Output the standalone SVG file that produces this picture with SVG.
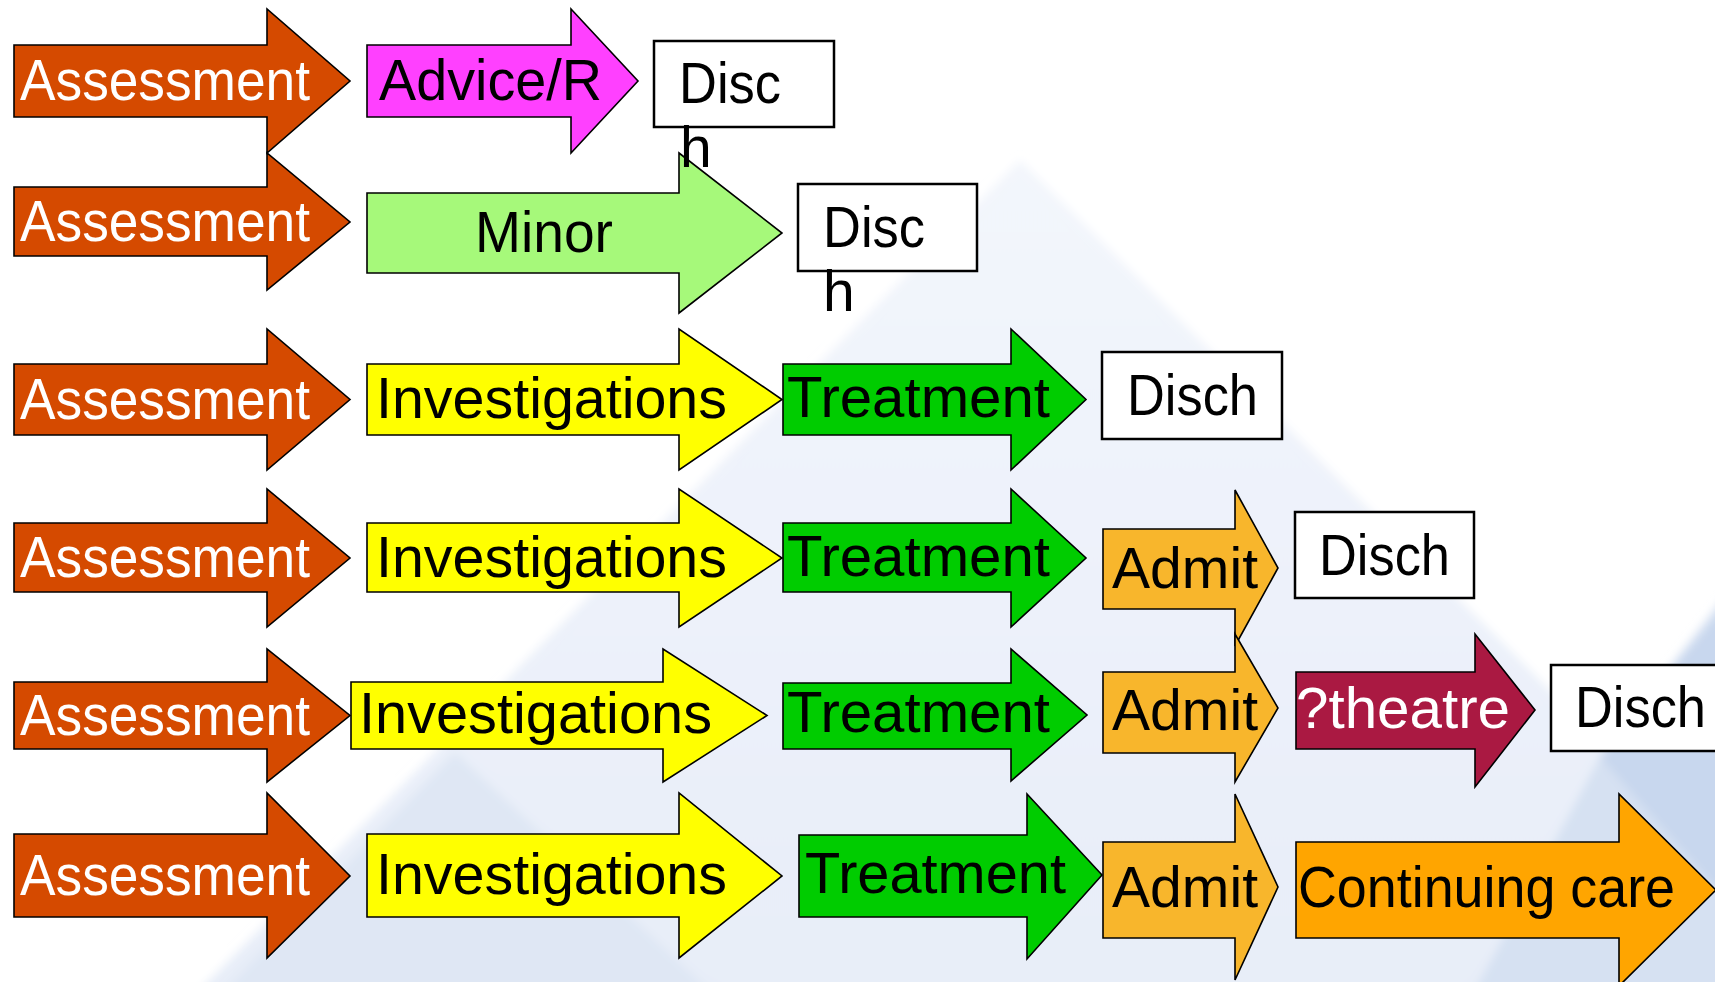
<svg xmlns="http://www.w3.org/2000/svg" width="1715" height="982" viewBox="0 0 1715 982">
<defs>
<linearGradient id="bgGrad" x1="0" y1="0" x2="0" y2="1">
<stop offset="0" stop-color="#F3F6FC"/>
<stop offset="1" stop-color="#E7EDF8"/>
</linearGradient>
<filter id="soft" x="-5%" y="-5%" width="110%" height="110%">
<feGaussianBlur stdDeviation="5"/>
</filter>
</defs>
<style>
.arr{stroke:#000;stroke-width:1.6;stroke-linejoin:miter}
.box{fill:#fff;stroke:#000;stroke-width:2.5}
.t{font-family:"Liberation Sans","Open Sans",sans-serif;font-size:57px;fill:#000}
.w{fill:#fff}
.assess{fill:#D54A00}
.advice{fill:#FF40FF}
.minor{fill:#A6F97A}
.inv{fill:#FFFF00}
.treat{fill:#00CC00}
.admit{fill:#F8B62C}
.theatre{fill:#AA1942}
.cont{fill:#FFA500}
</style>
<rect x="0" y="0" width="1715" height="982" fill="#ffffff"/>
<g id="background" filter="url(#soft)">
<polygon points="1020,160 1790,930 1790,1000 190,1000" fill="url(#bgGrad)"/>
<polygon points="455,752 215,1000 720,1000" fill="#DFE7F4"/>
<polygon points="1600,757 1730,590 1730,1000 1470,1000" fill="#D6E1F2"/>
<polygon points="1730,600 1600,757 1730,905" fill="#C8D7EE"/>
</g>

<!-- Row 1 -->
<g id="assess1"><polygon class="arr assess" points="14,45 267,45 267,9 350,81 267,153 267,117 14,117"/><text class="t w" x="20" y="100" textLength="290" lengthAdjust="spacingAndGlyphs">Assessment</text></g>
<g id="advice1"><polygon class="arr advice" points="367,45 571,45 571,9 638,81 571,153 571,117 367,117"/><text class="t" x="379" y="100" textLength="223" lengthAdjust="spacingAndGlyphs">Advice/R</text></g>

<!-- Row 2 -->
<g id="assess2"><polygon class="arr assess" points="14,187 267,187 267,153 350,222 267,290 267,256 14,256"/><text class="t w" x="20" y="241" textLength="290" lengthAdjust="spacingAndGlyphs">Assessment</text></g>
<g id="minor2"><polygon class="arr minor" points="367,193 679,193 679,153 782,233 679,313 679,273 367,273"/><text class="t" x="475" y="252" textLength="138" lengthAdjust="spacingAndGlyphs">Minor</text></g>

<g id="disc1"><rect class="box" x="654" y="41" width="180" height="86"/><text class="t" x="679" y="103" textLength="102" lengthAdjust="spacingAndGlyphs">Disc</text><text class="t" x="680" y="167">h</text></g>
<g id="disc2"><rect class="box" x="798" y="184" width="179" height="87"/><text class="t" x="823" y="247" textLength="102" lengthAdjust="spacingAndGlyphs">Disc</text><text class="t" x="823" y="311">h</text></g>

<!-- Row 3 -->
<g id="assess3"><polygon class="arr assess" points="14,364 267,364 267,329 350,399.5 267,470 267,435 14,435"/><text class="t w" x="20" y="419" textLength="290" lengthAdjust="spacingAndGlyphs">Assessment</text></g>
<g id="inv3"><polygon class="arr inv" points="367,364 679,364 679,329 782,399.5 679,470 679,435 367,435"/><text class="t" x="376" y="418" textLength="351" lengthAdjust="spacingAndGlyphs">Investigations</text></g>
<g id="treat3"><polygon class="arr treat" points="783,364 1011,364 1011,329 1086,399.5 1011,470 1011,435 783,435"/><text class="t" x="787" y="417" textLength="263" lengthAdjust="spacingAndGlyphs">Treatment</text></g>
<g id="disch3"><rect class="box" x="1102" y="352" width="180" height="87"/><text class="t" x="1127" y="415" textLength="131" lengthAdjust="spacingAndGlyphs">Disch</text></g>

<!-- Row 4 -->
<g id="assess4"><polygon class="arr assess" points="14,523 267,523 267,489 350,558 267,627 267,592 14,592"/><text class="t w" x="20" y="577" textLength="290" lengthAdjust="spacingAndGlyphs">Assessment</text></g>
<g id="inv4"><polygon class="arr inv" points="367,523 679,523 679,489 782,558 679,627 679,592 367,592"/><text class="t" x="376" y="577" textLength="351" lengthAdjust="spacingAndGlyphs">Investigations</text></g>
<g id="treat4"><polygon class="arr treat" points="783,523 1011,523 1011,489 1086,558 1011,627 1011,592 783,592"/><text class="t" x="787" y="576" textLength="263" lengthAdjust="spacingAndGlyphs">Treatment</text></g>
<g id="admit4"><polygon class="arr admit" points="1103,529 1235,529 1235,490 1278,568 1235,646 1235,609 1103,609"/><text class="t" x="1112" y="588" textLength="146" lengthAdjust="spacingAndGlyphs">Admit</text></g>
<g id="disch4"><rect class="box" x="1295" y="512" width="179" height="86"/><text class="t" x="1319" y="575" textLength="131" lengthAdjust="spacingAndGlyphs">Disch</text></g>

<!-- Row 5 -->
<g id="assess5"><polygon class="arr assess" points="14,682 267,682 267,649 350,715.5 267,782 267,749 14,749"/><text class="t w" x="20" y="735" textLength="290" lengthAdjust="spacingAndGlyphs">Assessment</text></g>
<g id="inv5"><polygon class="arr inv" points="351,682 663,682 663,649 767,715.5 663,782 663,749 351,749"/><text class="t" x="359" y="733" textLength="353" lengthAdjust="spacingAndGlyphs">Investigations</text></g>
<g id="treat5"><polygon class="arr treat" points="783,683 1011,683 1011,649 1087,715 1011,781 1011,749 783,749"/><text class="t" x="787" y="732" textLength="263" lengthAdjust="spacingAndGlyphs">Treatment</text></g>
<g id="admit5"><polygon class="arr admit" points="1103,672 1235,672 1235,634 1278,708 1235,782 1235,753 1103,753"/><text class="t" x="1112" y="730" textLength="146" lengthAdjust="spacingAndGlyphs">Admit</text></g>
<g id="theatre5"><polygon class="arr theatre" points="1296,672 1475,672 1475,634 1535,710 1475,787 1475,749 1296,749"/><text class="t w" x="1296" y="728" textLength="214" lengthAdjust="spacingAndGlyphs">?theatre</text></g>
<g id="disch5"><rect class="box" x="1551" y="665" width="180" height="86"/><text class="t" x="1575" y="727" textLength="131" lengthAdjust="spacingAndGlyphs">Disch</text></g>

<!-- Row 6 -->
<g id="assess6"><polygon class="arr assess" points="14,834 267,834 267,793 350,876 267,958 267,917 14,917"/><text class="t w" x="20" y="895" textLength="290" lengthAdjust="spacingAndGlyphs">Assessment</text></g>
<g id="inv6"><polygon class="arr inv" points="367,834 679,834 679,793 782,876 679,958 679,917 367,917"/><text class="t" x="376" y="894" textLength="351" lengthAdjust="spacingAndGlyphs">Investigations</text></g>
<g id="treat6"><polygon class="arr treat" points="799,835 1027,835 1027,794 1102,875 1027,959 1027,917 799,917"/><text class="t" x="805" y="893" textLength="261" lengthAdjust="spacingAndGlyphs">Treatment</text></g>
<g id="admit6"><polygon class="arr admit" points="1103,842 1235,842 1235,794 1278,887 1235,980 1235,938 1103,938"/><text class="t" x="1112" y="907" textLength="146" lengthAdjust="spacingAndGlyphs">Admit</text></g>
<g id="cont6"><polygon class="arr cont" points="1296,842 1619,842 1619,794 1716,890 1619,986 1619,938 1296,938"/><text class="t" x="1298" y="907" textLength="377" lengthAdjust="spacingAndGlyphs">Continuing care</text></g>

<g id="connectors"></g>
</svg>
